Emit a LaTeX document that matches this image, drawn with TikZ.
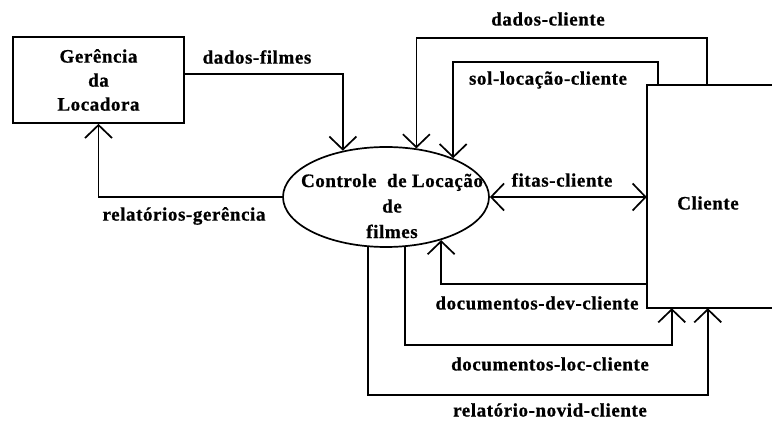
\documentclass[tikz,border=0pt]{standalone}
\usepackage{fontspec}
\setmainfont{Liberation Serif}[LetterSpace=3, BoldFont={Liberation Serif Bold}, BoldFeatures={FakeBold=0.8}]
\usetikzlibrary{arrows.meta,shapes.geometric}

\tikzset{
  >={Straight Barb[length=13pt,width=27pt]},
  wire/.style={line width=1.7pt},
  flow/.style={wire,->},
  txt/.style={font=\bfseries\fontsize{19}{24}\selectfont, inner sep=0pt, align=center},
  lbl/.style={txt},
  entity/.style={draw, wire, inner sep=0pt},
}

\begin{document}
\begin{tikzpicture}[x=1pt, y=-1pt]
  \useasboundingbox (0,0) rectangle (772,422);

  % external entity: management
  \node[entity, txt, minimum width=171pt, minimum height=86pt] (ger) at (98.5,80)
    {Gerência\\da\\Locadora};

  % central process
  \node[entity, ellipse, minimum width=206pt, minimum height=100pt] (ell) at (386,197) {};
  \node[txt, font=\bfseries\fontsize{19}{25.5}\selectfont] (elltxt) at (392,206)
    {Controle\ \ de Locação\\de\\filmes};

  % external entity: client (open on the right)
  \node[inner sep=0pt, minimum width=125pt, minimum height=223pt] (cli) at (709.5,196.5) {};
  \draw[wire] (cli.north east) -- (cli.north west) -- (cli.south west) -- (cli.south east);
  \node[txt] (clitxt) at (708,203) {Cliente};

  % flows between management and process
  \draw[flow] ([yshift=6pt]ger.east) -| (ell.133.4);
  \draw[flow] (ell.west) -| (ger.south);

  % flows from client to process
  \draw[flow] ([xshift=60pt]cli.north west) -- ++(0,-47) -| (ell.58.9);
  \draw[flow] ([xshift=11pt]cli.north west) -- ++(0,-23) -| (ell.30.6);
  \draw[wire,<->] (ell.east) -- (ell.east -| cli.west);
  \draw[flow] ([yshift=24pt]cli.south west) -| (ell.-38.3);

  % flows from process to client
  \draw[flow] (ell.-69.9) |- ([xshift=25pt,yshift=-37pt]cli.south west)
                          -- ([xshift=25pt]cli.south west);
  \draw[flow] (ell.-110.1) |- ([xshift=61pt,yshift=-87pt]cli.south west)
                           -- ([xshift=61pt]cli.south west);

  % flow labels
  \node[lbl] (l1) at (257,57)  {dados-filmes};
  \node[lbl] (l2) at (184,216) {relatórios-gerência};
  \node[lbl] (l3) at (548,19)  {dados-cliente};
  \node[lbl] (l4) at (548,80)  {sol-locação-cliente};
  \node[lbl] (l5) at (562,180) {fitas-cliente};
  \node[lbl] (l6) at (537,303) {documentos-dev-cliente};
  \node[lbl] (l7) at (550,364) {documentos-loc-cliente};
  \node[lbl] (l8) at (550,410) {relatório-novid-cliente};
\end{tikzpicture}
\end{document}
